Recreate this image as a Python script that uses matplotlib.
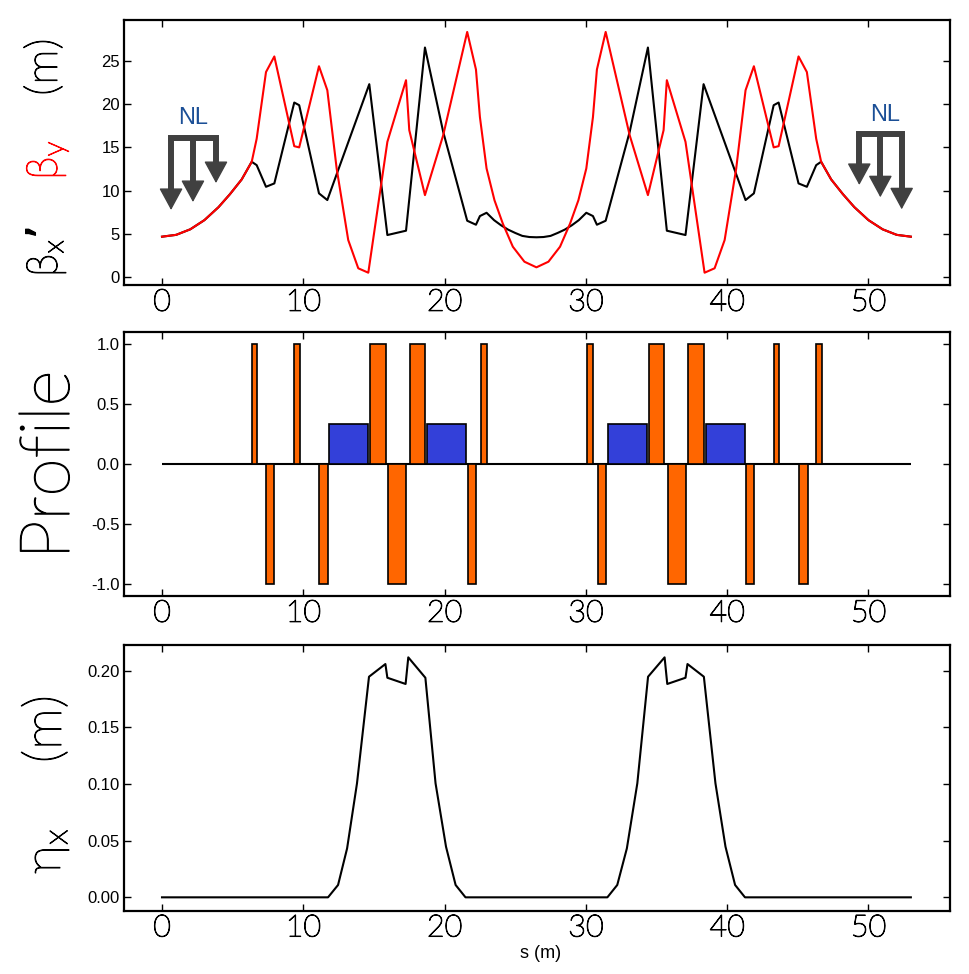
import matplotlib
matplotlib.use("Agg")
import matplotlib.pyplot as plt
from matplotlib import font_manager as fm
from matplotlib import patheffects as pe

# ---------------- data ----------------
# beta_x (black)
s_bx = [0, 1, 2, 3, 4, 4.81, 5.64, 6.35, 6.7, 7.36, 7.95, 9.36, 9.71, 11.11, 11.7,
        14.67, 15.95, 17.27, 18.61, 19.9, 21.6, 22.22, 22.5, 22.97, 23.5, 24.0,
        24.5, 25.0, 25.5, 26.0, 26.5, 27.0, 27.5, 28.0, 28.5, 29.0, 29.5, 30.03,
        30.5, 30.78, 31.4, 33.1, 34.39, 35.73, 37.05, 38.33, 41.3, 41.89, 43.29,
        43.64, 45.05, 45.64, 46.3, 46.65, 47.36, 48.19, 49, 50, 51, 52, 53]
beta_x = [4.69, 4.9, 5.54, 6.6, 8.1, 9.6, 11.3, 13.34, 12.95, 10.45, 10.84, 20.18,
          19.87, 9.69, 8.92, 22.3, 4.88, 5.38, 26.53, 16.8, 6.53, 6.07, 7.07, 7.45,
          6.6, 6.0, 5.5, 5.12, 4.78, 4.65, 4.62, 4.65, 4.78, 5.12, 5.5, 6.0, 6.6,
          7.45, 7.07, 6.07, 6.53, 16.8, 26.53, 5.38, 4.88, 22.3, 8.92, 9.69, 19.87,
          20.18, 10.84, 10.45, 12.95, 13.34, 11.3, 9.6, 8.1, 6.6, 5.54, 4.9, 4.69]

# beta_y (red)
s_by = [0, 1, 2, 3, 4, 4.81, 5.64, 6.35, 6.7, 7.36, 7.95, 9.36, 9.71, 11.11, 11.7,
        12.36, 13.18, 13.89, 14.6, 15.95, 17.27, 17.5, 18.61, 19.9, 21.6, 22.22,
        22.5, 22.97, 23.53, 24.12, 24.83, 25.65, 26.5, 27.35, 28.17, 28.88, 29.47,
        30.03, 30.5, 30.78, 31.4, 33.1, 34.39, 35.5, 35.73, 37.05, 38.4, 39.11,
        39.82, 40.64, 41.3, 41.89, 43.29, 43.64, 45.05, 45.64, 46.3, 46.65, 47.36,
        48.19, 49, 50, 51, 52, 53]
beta_y = [4.69, 4.9, 5.54, 6.6, 8.1, 9.6, 11.3, 13.34, 16.0, 23.7, 25.5, 15.14,
          15.0, 24.37, 21.6, 12.57, 4.3, 1.04, 0.53, 15.64, 22.76, 16.99, 9.49,
          16.4, 28.33, 23.99, 18.5, 12.57, 8.9, 6.2, 3.53, 1.8, 1.15, 1.8, 3.53,
          6.2, 8.9, 12.57, 18.5, 23.99, 28.33, 16.4, 9.49, 16.99, 22.76, 15.64,
          0.53, 1.04, 4.3, 12.57, 21.6, 24.37, 15.0, 15.14, 25.5, 23.7, 16.0,
          13.34, 11.3, 9.6, 8.1, 6.6, 5.54, 4.9, 4.69]

# magnet profile: quadrupoles (orange)
quad_start = [6.35, 7.37, 9.35, 11.12, 14.71, 15.99, 17.52, 21.63, 22.60,
              30.07, 30.85, 34.44, 35.81, 37.23, 41.33, 43.32, 45.11, 46.32]
quad_end = [6.73, 7.96, 9.75, 11.74, 15.84, 17.26, 18.63, 22.22, 23.00,
            30.47, 31.42, 35.55, 37.08, 38.34, 41.92, 43.70, 45.70, 46.72]
quad_strength = [1, -1, 1, -1, 1, -1, 1, -1, 1,
                 1, -1, 1, -1, 1, -1, 1, -1, 1]
# dipoles (blue)
dip_start = [11.81, 18.75, 31.53, 38.48]
dip_end = [14.59, 21.51, 34.30, 41.24]
dip_strength = [0.33, 0.33, 0.33, 0.33]

# dispersion eta_x
s_eta = [0, 11.75, 12.46, 13.1, 13.8, 14.65, 15.81, 15.95, 17.24, 17.43, 18.64,
         19.36, 20.1, 20.78, 21.48, 31.52, 32.22, 32.9, 33.64, 34.4, 35.57,
         35.76, 37.05, 37.19, 38.35, 39.17, 39.88, 40.56, 41.26, 53]
eta_x = [0, 0, 0.0109, 0.0432, 0.1006, 0.1947, 0.2059, 0.1938, 0.1883, 0.2118,
         0.1938, 0.1006, 0.0447, 0.0109, 0, 0, 0.0109, 0.0432, 0.1006, 0.1947,
         0.2118, 0.1883, 0.1938, 0.2059, 0.1947, 0.1006, 0.0447, 0.0109, 0, 0]

xticks = [0, 10, 20, 30, 40, 50]
beta_ticks = [0, 5, 10, 15, 20, 25]
prof_ticks = [-1.0, -0.5, 0.0, 0.5, 1.0]
eta_ticks = [0.00, 0.05, 0.10, 0.15, 0.20]

# ---------------- fonts ----------------
names = {f.name for f in fm.fontManager.ttflist}
THIN = [f for f in ["Lato", "Open Sans"] if f in names] + ["DejaVu Sans"]
TICK = [f for f in ["Liberation Sans"] if f in names] + ["DejaVu Sans"]

plt.rcParams["axes.unicode_minus"] = False

W, H = 969, 974
fig = plt.figure(figsize=(W / 100, H / 100), dpi=100)
fig.patch.set_facecolor("white")


def px_ax(top, bottom, left=124, right=950):
    return [left / W, 1 - bottom / H, (right - left) / W, (bottom - top) / H]


ax1 = fig.add_axes(px_ax(20, 285))
ax2 = fig.add_axes(px_ax(331.7, 596))
ax3 = fig.add_axes(px_ax(645, 910.7))

XLIM = (-2.69, 55.77)


def thin_fx(color, w):
    return [pe.withStroke(linewidth=w, foreground=color)]


def style(ax, yticks, ylabels):
    ax.set_xlim(*XLIM)
    ax.set_xticks(xticks)
    labs = ax.set_xticklabels([str(t) for t in xticks], family=THIN, fontsize=22,
                              fontweight=200)
    for lb in labs:
        lb.set_path_effects(thin_fx("black", 0.8))
    ax.set_yticks(yticks)
    ax.set_yticklabels(ylabels, family=TICK, fontsize=12)
    ax.tick_params(direction="in", top=True, right=True, length=5, width=1,
                   colors="black")
    ax.tick_params(axis="x", pad=2)
    ax.tick_params(axis="y", pad=3)
    for sp in ax.spines.values():
        sp.set_linewidth(1.6)
        sp.set_color("black")


# ---- top: beta functions ----
ax1.plot(s_bx, beta_x, color="black", lw=1.5, zorder=3)
ax1.plot(s_by, beta_y, color="#ff0000", lw=1.5, zorder=4)
ax1.set_ylim(-0.89, 29.71)
style(ax1, beta_ticks, [str(t) for t in beta_ticks])

GRAY = "#404040"


def nl_mark(ax, xs, bar_y, tips, text_xy):
    ax.plot([xs[0], xs[-1]], [bar_y, bar_y], color=GRAY, lw=4.3,
            solid_capstyle="projecting", zorder=5)
    for x, t in zip(xs, tips):
        ax.plot([x, x], [bar_y, t + 1.9], color=GRAY, lw=4.3,
                solid_capstyle="butt", zorder=5)
        ax.annotate("", xy=(x, t), xytext=(x, bar_y),
                    arrowprops=dict(arrowstyle="-|>,head_length=0.7,head_width=0.38",
                                    color=GRAY, lw=1, mutation_scale=20,
                                    shrinkA=0, shrinkB=0), zorder=5)
    ax.text(text_xy[0], text_xy[1], "NL", color="#1b4f96", fontsize=17,
            family=TICK, ha="center", va="center", zorder=6)


nl_mark(ax1, [0.64, 2.19, 3.82], 16.03, [7.77, 8.69, 10.88], (2.19, 18.4))
nl_mark(ax1, [49.35, 50.84, 52.35], 16.49, [10.66, 9.24, 7.85], (51.15, 18.74))

# ---- middle: profile ----
ax2.hlines(0, s_eta[0], s_eta[-1], color="black", lw=1.5, zorder=1)
ax2.bar(quad_start, quad_strength,
        width=[e - s for s, e in zip(quad_start, quad_end)], align="edge",
        color="#ff6600", edgecolor="black", linewidth=1.2, zorder=2)
ax2.bar(dip_start, dip_strength,
        width=[e - s for s, e in zip(dip_start, dip_end)], align="edge",
        color="#3340d9", edgecolor="black", linewidth=1.2, zorder=2)
ax2.set_ylim(-1.1, 1.1025)
style(ax2, prof_ticks, ["%.1f" % t for t in prof_ticks])

# ---- bottom: dispersion ----
ax3.plot(s_eta, eta_x, color="black", lw=1.5)
ax3.set_ylim(-0.0118, 0.2227)
style(ax3, eta_ticks, ["%.2f" % t for t in eta_ticks])
fig.text(541 / W, 1 - 954 / H, "s (m)", family=TICK, fontsize=13,
         ha="center", va="center")

# ---- y labels ----
def vlabel(xpx, ypx, s, color="black", size=26, w=0.8):
    t = fig.text(xpx / W, 1 - ypx / H, s, rotation=90, rotation_mode="anchor",
                 ha="center", va="baseline", color=color, fontsize=size,
                 family=THIN, fontweight=200)
    t.set_path_effects(thin_fx(color, w))


vlabel(57, 252, r"$\mathregular{β_x}$’", size=31)
vlabel(57, 160, r"$\mathregular{β_y}$", color="#ff0000", size=31)
vlabel(57, 67, "(m)", size=32)
vlabel(69, 465, "Profile", size=50, w=0.9)
vlabel(60, 851, r"$\mathregular{η_x}$", size=36)
vlabel(61, 729, "(m)", size=38)

fig.savefig("out.png", dpi=100)
